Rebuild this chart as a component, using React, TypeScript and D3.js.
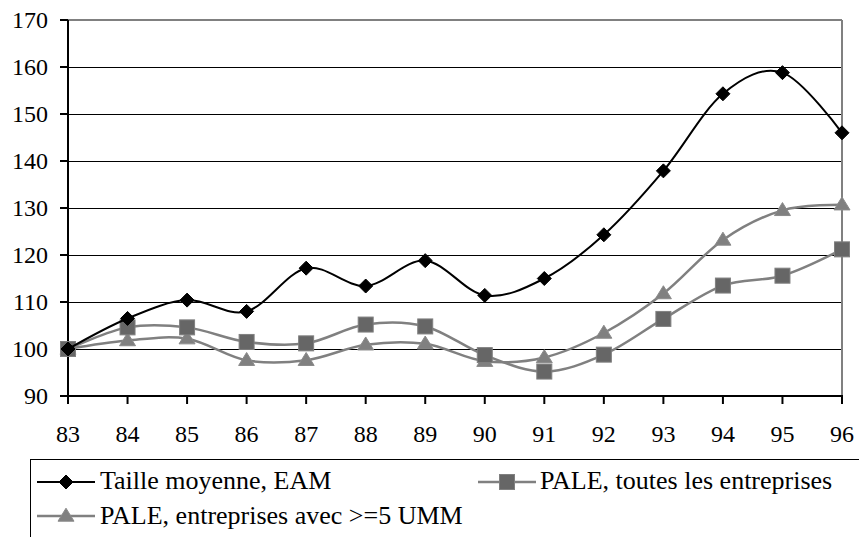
import React from "react";
import * as d3 from "d3";

const years = ["83", "84", "85", "86", "87", "88", "89", "90", "91", "92", "93", "94", "95", "96"];
const yTicks = [90, 100, 110, 120, 130, 140, 150, 160, 170];
const seriesNames = ["Taille moyenne, EAM", "PALE, toutes les entreprises", "PALE, entreprises avec >=5 UMM"];
const eam = [100, 106.5, 110.4, 108, 117.2, 113.4, 118.8, 111.4, 115, 124.3, 137.9, 154.3, 158.8, 146];
const paleAll = [100, 104.6, 104.6, 101.5, 101.2, 105.2, 104.8, 98.7, 95.2, 98.8, 106.4, 113.5, 115.6, 121.2];
const pale5 = [100, 101.8, 102.2, 97.6, 97.6, 100.9, 101.1, 97.4, 98.2, 103.4, 111.8, 123.2, 129.5, 130.7];

const W = 859, H = 537;
const L = 68, R = 842, T = 20, B = 396;

function STxt({ x, y, size, anchor, children }: any) {
  return (
    <text x={x} y={y} fontFamily="Liberation Serif" fontSize={size} textAnchor={anchor || "start"} fill="#000">
      {children}
    </text>
  );
}

function Marker({ kind, x, y }: { kind: number; x: number; y: number }) {
  if (kind === 0) {
    const s = 7;
    return <path d={`M${x},${y - s}L${x + s},${y}L${x},${y + s}L${x - s},${y}Z`} fill="#000" stroke="#000" strokeWidth={1} />;
  }
  if (kind === 1) {
    const s = 7.5;
    return <rect x={x - s} y={y - s} width={2 * s} height={2 * s} fill="#666666" stroke="#808080" strokeWidth={1} />;
  }
  const w = 8, h = 13;
  return <path d={`M${x},${y - h * 0.6}L${x + w},${y + h * 0.4}L${x - w},${y + h * 0.4}Z`} fill="#808080" stroke="#8a8a8a" strokeWidth={1} />;
}

export default function App() {
  const x = d3.scalePoint<string>().domain(years).range([L, R]);
  const y = d3.scaleLinear().domain([90, 170]).range([B, T]);
  const line = d3
    .line<number>()
    .x((_, i) => x(years[i]) as number)
    .y((d) => y(d))
    .curve(d3.curveCardinal.tension(0));
  const series = [
    { data: eam, color: "#000000", width: 2 },
    { data: paleAll, color: "#808080", width: 2.5 },
    { data: pale5, color: "#808080", width: 2.5 },
  ];
  const drawOrder = [2, 1, 0];
  return (
    <svg width={W} height={H} style={{ position: "absolute", left: 0, top: 0 }}>
      <rect x={0} y={0} width={W} height={H} fill="#fff" />
      {yTicks.slice(1, -1).map((t) => (
        <line key={t} x1={L} x2={R} y1={y(t) + 0.5} y2={y(t) + 0.5} stroke="#000" strokeWidth={1} />
      ))}
      <line x1={L} x2={R} y1={T} y2={T} stroke="#808080" strokeWidth={2} />
      <line x1={R} x2={R} y1={T} y2={B} stroke="#808080" strokeWidth={2} />
      <line x1={L} x2={R + 1} y1={B} y2={B} stroke="#000" strokeWidth={2} />
      <line x1={L} x2={L} y1={T} y2={B} stroke="#000" strokeWidth={2} />
      {yTicks.map((t) => (
        <g key={t}>
          <line x1={L - 8} x2={L} y1={y(t)} y2={y(t)} stroke="#000" strokeWidth={2} />
          <STxt x={48} y={y(t) + 8} size={24} anchor="end">{t}</STxt>
        </g>
      ))}
      {years.map((yr) => (
        <g key={yr}>
          <line x1={x(yr)} x2={x(yr)} y1={B} y2={B + 8} stroke="#000" strokeWidth={2} />
          <STxt x={x(yr) as number} y={442} size={24} anchor="middle">{yr}</STxt>
        </g>
      ))}
      {drawOrder.map((k) => (
        <g key={k}>
          <path d={line(series[k].data) || ""} fill="none" stroke={series[k].color} strokeWidth={series[k].width} />
          {series[k].data.map((v, i) => (
            <Marker key={i} kind={k} x={x(years[i]) as number} y={y(v)} />
          ))}
        </g>
      ))}
      <rect x={30.5} y={459.5} width={W + 20} height={100} fill="none" stroke="#000" strokeWidth={1} />
      {[
        { k: 0, lx: 37, ly: 482, tx: 100, ty: 489 },
        { k: 1, lx: 478, ly: 482, tx: 540, ty: 489 },
        { k: 2, lx: 37, ly: 516, tx: 100, ty: 524 },
      ].map((e) => (
        <g key={e.k}>
          <line x1={e.lx} x2={e.lx + 58} y1={e.ly} y2={e.ly} stroke={series[e.k].color} strokeWidth={series[e.k].width} />
          <Marker kind={e.k} x={e.lx + 29} y={e.ly} />
          <STxt x={e.tx} y={e.ty} size={26}>{seriesNames[e.k]}</STxt>
        </g>
      ))}
    </svg>
  );
}
